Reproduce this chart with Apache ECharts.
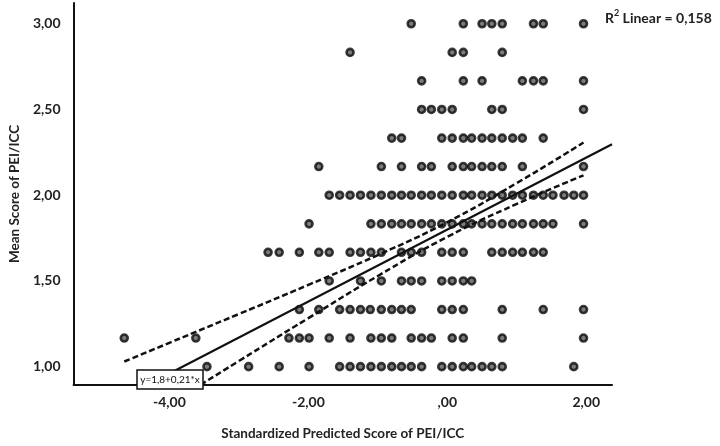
<!DOCTYPE html>
<html>
<head>
<meta charset="utf-8">
<script src="https://cdn.jsdelivr.net/npm/echarts@6/dist/echarts.min.js"></script>
<style>
html,body{margin:0;padding:0;background:#fff;}
#c{width:720px;height:446px;}
</style>
</head>
<body>
<div id="c"></div>
<script>
// Discrete y levels (Mean Score of PEI/ICC)
const yLevels = [1.000, 1.167, 1.333, 1.500, 1.667, 1.833, 2.000, 2.167, 2.333, 2.500, 2.667, 2.833, 3.000];
// x values (Standardized Predicted Score) of points in each y row
const row100 = [-3.46, -2.86, -2.42, -1.99, -1.55, -1.40, -1.25, -1.10, -0.95, -0.80, -0.66, -0.52, -0.37, -0.08, 0.07, 0.23, 0.35, 0.50, 0.64, 0.79, 1.82];
const row117 = [-4.65, -3.62, -2.28, -2.13, -1.99, -1.70, -1.40, -1.10, -0.95, -0.80, -0.52, -0.37, -0.23, 0.07, 0.23, 0.79, 1.96];
const row133 = [-2.13, -1.85, -1.55, -1.40, -1.25, -1.11, -0.95, -0.80, -0.66, -0.52, -0.08, 0.07, 0.23, 0.79, 1.38, 1.96];
const row150 = [-1.70, -1.25, -0.95, -0.66, -0.52, -0.37, -0.08, 0.07, 0.23, 0.35];
const row167 = [-2.58, -2.42, -2.13, -1.85, -1.70, -1.40, -1.25, -1.10, -0.95, -0.66, -0.52, -0.37, -0.08, 0.07, 0.23, 0.64, 0.79, 0.94, 1.08, 1.24, 1.38];
const row183 = [-1.99, -1.10, -0.95, -0.80, -0.66, -0.52, -0.37, -0.23, -0.08, 0.07, 0.23, 0.35, 0.50, 0.64, 0.79, 0.94, 1.08, 1.24, 1.38, 1.52, 1.96];
const row200 = [-1.70, -1.55, -1.40, -1.25, -1.10, -0.95, -0.80, -0.66, -0.52, -0.37, -0.23, -0.08, 0.07, 0.23, 0.35, 0.50, 0.64, 0.79, 0.94, 1.08, 1.24, 1.38, 1.52, 1.68, 1.82, 1.96];
const row217 = [-1.85, -0.95, -0.66, -0.37, -0.23, 0.07, 0.23, 0.35, 0.50, 0.64, 0.79, 1.08, 1.96];
const row233 = [-0.80, -0.66, -0.08, 0.07, 0.23, 0.35, 0.50, 0.64, 0.79, 0.94, 1.08, 1.38];
const row250 = [-0.37, -0.23, -0.08, 0.07, 0.64, 0.79, 1.96];
const row267 = [-0.37, 0.23, 0.50, 1.08, 1.24, 1.38, 1.96];
const row283 = [-1.40, 0.07, 0.23, 0.79];
const row300 = [-0.52, 0.23, 0.50, 0.64, 0.79, 1.24, 1.38, 1.96];
const rows = [row100, row117, row133, row150, row167, row183, row200, row217, row233, row250, row267, row283, row300];

// Fit line: y = 1.8 + 0.21*x
const fitIntercept = 1.8;
const fitSlope = 0.21;
// 95% mean confidence band
const ciX     = [-4.65, -4.00, -3.00, -2.00, -1.00, 0.00, 1.00, 1.96];
const ciUpper = [1.030, 1.139, 1.307, 1.477, 1.651, 1.843, 2.071, 2.307];
const ciLower = [0.617, 0.781, 1.033, 1.283, 1.529, 1.757, 1.949, 2.116];

// Axis ticks
const xTicks = [-4, -2, 0, 2];
const yTicks = [1.0, 1.5, 2.0, 2.5, 3.0];
const xMin = -5.38, xMax = 2.37, yMin = 0.893, yMax = 3.121;

const pts = [];
rows.forEach((r, i) => r.forEach(x => pts.push([x, yLevels[i]])));
const fitData = [[xMin, fitIntercept + fitSlope * xMin], [xMax, fitIntercept + fitSlope * xMax]];
const upData = ciX.map((x, i) => [x, ciUpper[i]]);
const loData = ciX.map((x, i) => [x, ciLower[i]]);

const fmt = v => { const s = v.toFixed(2).replace('.', ','); return s.replace(/^0,/, ','); };
const FONT = 'Lato, "Open Sans", sans-serif';

const chart = echarts.init(document.getElementById('c'), null, {renderer: 'canvas'});
chart.setOption({
  animation: false,
  backgroundColor: '#fff',
  grid: {left: 62, right: 108, top: 3, bottom: 57, containLabel: false},
  xAxis: {
    type: 'value', min: xMin, max: xMax,
    name: 'Standardized Predicted Score of PEI/ICC', nameLocation: 'middle', nameGap: 42,
    nameTextStyle: {fontFamily: FONT, fontWeight: 'bold', fontSize: 13.5, color: '#222'},
    axisLine: {show: true, onZero: false, lineStyle: {color: '#111', width: 2}},
    axisTick: {show: false},
    splitLine: {show: false},
    axisLabel: {customValues: xTicks, formatter: fmt, margin: 10, fontFamily: FONT, fontWeight: 'bold', fontSize: 14, color: '#222'}
  },
  yAxis: {
    type: 'value', min: yMin, max: yMax,
    name: 'Mean Score of PEI/ICC', nameLocation: 'middle', nameGap: 44,
    nameTextStyle: {fontFamily: FONT, fontWeight: 'bold', fontSize: 13.5, color: '#222'},
    axisLine: {show: true, onZero: false, lineStyle: {color: '#111', width: 2}},
    axisTick: {show: false},
    splitLine: {show: false},
    axisLabel: {customValues: yTicks, formatter: fmt, margin: 13, fontFamily: FONT, fontWeight: 'bold', fontSize: 14, color: '#222'}
  },
  series: [
    {type: 'scatter', data: pts, symbol: 'circle', symbolSize: 7,
     itemStyle: {color: '#5a5a5a', borderColor: '#0d0d0d', borderWidth: 2.6}, z: 3},
    {type: 'line', data: fitData, showSymbol: false, clip: true,
     lineStyle: {color: '#111', width: 2.2}, z: 4},
    {type: 'line', data: upData, showSymbol: false, smooth: true, clip: true,
     lineStyle: {color: '#111', width: 2.5, type: [6, 3]}, z: 4},
    {type: 'line', data: loData, showSymbol: false, smooth: true, clip: true,
     lineStyle: {color: '#111', width: 2.5, type: [6, 3]}, z: 4}
  ],
  graphic: [
    {type: 'rect', z: 100, shape: {x: 137, y: 370, width: 66, height: 19},
     style: {fill: '#fff', stroke: '#111', lineWidth: 1.5}},
    {type: 'text', z: 101, x: 170, y: 380,
     style: {text: 'y=1,8+0,21*x', fontFamily: FONT, fontSize: 10, fill: '#111', align: 'center', verticalAlign: 'middle'}},
    {type: 'text', z: 101, x: 605, y: 9,
     style: {text: '{a|R}{s|2}{a| Linear = 0,158}', fontFamily: FONT,
       rich: {a: {fontFamily: FONT, fontSize: 14, fontWeight: 'bold', fill: '#222', color: '#222', verticalAlign: 'bottom'},
              s: {fontFamily: FONT, fontSize: 9, fontWeight: 'bold', fill: '#222', color: '#222', verticalAlign: 'top', padding: [0, 0, 7, 0]}}}}
  ]
});
</script>
</body>
</html>
